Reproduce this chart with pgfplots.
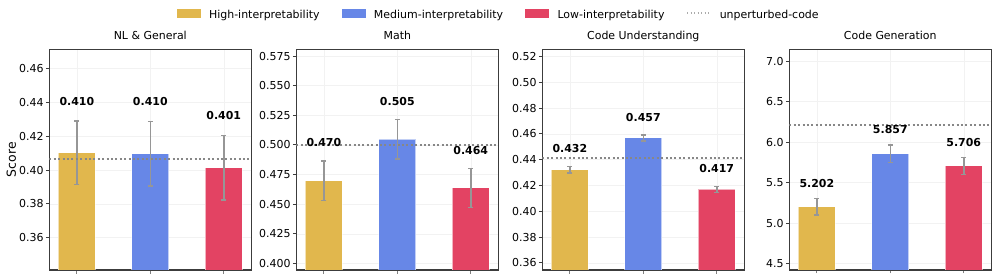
\documentclass[border=0pt]{standalone}
\usepackage{fontspec}
\setmainfont{DejaVu Sans}
\usepackage{pgfplots}
\pgfplotsset{compat=1.18}

\definecolor{cHigh}{RGB}{225,183,77}
\definecolor{cMed}{RGB}{103,135,231}
\definecolor{cLow}{RGB}{227,67,99}
\definecolor{cErr}{RGB}{150,150,150}
\definecolor{cRef}{RGB}{135,135,135}
\definecolor{cSpine}{RGB}{60,60,60}

\tikzset{vlab/.style={font=\fontsize{11}{13}\selectfont\bfseries, anchor=base, inner sep=0pt}}

\pgfplotsset{
  panel/.style={
    scale only axis, width=202bp, height=220.7bp,
    anchor=south west,
    xmin=-0.375, xmax=2.375,
    xtick={0,1,2}, xticklabels={,,},
    tick align=outside, major tick length=3.5bp,
    tick pos=left,
    axis line style={cSpine, line width=1.1bp},
    ytick style={cSpine, line width=0.9bp},
    xtick style={gray, line width=0.9bp},
    grid=major, major grid style={black!5, line width=0.5bp},
    tick label style={font=\fontsize{11}{13}\selectfont},
    /pgf/number format/assume math mode=true,
    yticklabel style={anchor=east, inner sep=0pt, xshift=-2bp},
    title style={at={(0.5,1)}, anchor=base, yshift=4bp, font=\fontsize{11}{13}\selectfont},
  },
  mybar/.style={ybar, bar width=0.5, bar shift=0pt, fill=#1, draw=white, draw opacity=0.6, line width=1bp, forget plot,
     error bars/.cd, y dir=both, y explicit,
     error bar style={cErr, line width=1.5bp, draw opacity=1},
     error mark options={cErr, rotate=90, line width=1.5bp, mark size=2.5bp, draw opacity=1}},
  refline/.style={cRef, line width=2bp, dash pattern=on 2bp off 2.4bp, forget plot},
}

\begin{document}
\begin{tikzpicture}
\path[use as bounding box] (0,0) rectangle (996bp,278bp);

% ---------------- NL & General ----------------
\begin{axis}[panel, at={(49.3bp,8bp)},
  ymin=0.34085, ymax=0.4715,
  ytick={0.36,0.38,0.40,0.42,0.44,0.46},
  yticklabel style={/pgf/number format/.cd, fixed, fixed zerofill, precision=2},
  title={NL \& General},
  ylabel={Score},
  ylabel style={at={(axis description cs:-0.166,0.5)}, anchor=base, font=\fontsize{12.5}{15}\selectfont},
  legend columns=4,
  legend style={at={(2.2196,1.159)}, anchor=center, draw=none, fill=none,
    inner sep=0pt, outer sep=0pt, font=\fontsize{11}{13}\selectfont,
    nodes={inner sep=0pt},
    /tikz/every odd column/.style={column sep=9bp},
    /tikz/every even column/.style={column sep=22bp}},
]
\addlegendimage{legend image code/.code={\fill[cHigh] (0bp,-2bp) rectangle (23bp,6.3bp);}}
\addlegendentry{High-interpretability}
\addlegendimage{legend image code/.code={\fill[cMed] (0bp,-2bp) rectangle (23bp,6.3bp);}}
\addlegendentry{Medium-interpretability}
\addlegendimage{legend image code/.code={\fill[cLow] (0bp,-2bp) rectangle (23bp,6.3bp);}}
\addlegendentry{Low-interpretability}
\addlegendimage{legend image code/.code={\draw[cRef!70, line width=1.3bp, dash pattern=on 1.3bp off 2.2bp] (0bp,2bp) -- (23bp,2bp);}}
\addlegendentry{unperturbed-code}

\addplot[mybar=cHigh] coordinates {(0,0.4102) +- (0,0.0188)};
\addplot[mybar=cMed]  coordinates {(1,0.4097) +- (0,0.0190)};
\addplot[mybar=cLow]  coordinates {(2,0.4014) +- (0,0.0190)};
\addplot[refline] coordinates {(-0.375,0.4063) (2.375,0.4063)};
\node[vlab] at (axis cs:0,0.4380) {0.410};
\node[vlab] at (axis cs:1,0.4380) {0.410};
\node[vlab] at (axis cs:2,0.4298) {0.401};
\end{axis}

% ---------------- Math ----------------
\begin{axis}[panel, at={(296.3bp,8bp)},
  ymin=0.3944, ymax=0.58075,
  ytick={0.4,0.425,0.45,0.475,0.5,0.525,0.55,0.575},
  yticklabel style={/pgf/number format/.cd, fixed, fixed zerofill, precision=3},
  title={Math},
]
\addplot[mybar=cHigh] coordinates {(0,0.4698) +- (0,0.0167)};
\addplot[mybar=cMed]  coordinates {(1,0.5049) +- (0,0.0167)};
\addplot[mybar=cLow]  coordinates {(2,0.4638) +- (0,0.0165)};
\addplot[refline] coordinates {(-0.375,0.5003) (2.375,0.5003)};
\node[vlab] at (axis cs:0,0.4986) {0.470};
\node[vlab] at (axis cs:1,0.5334) {0.505};
\node[vlab] at (axis cs:2,0.4916) {0.464};
\end{axis}

% ---------------- Code Understanding ----------------
\begin{axis}[panel, at={(542.3bp,8bp)},
  ymin=0.35445, ymax=0.52555,
  ytick={0.36,0.38,0.40,0.42,0.44,0.46,0.48,0.50,0.52},
  yticklabel style={/pgf/number format/.cd, fixed, fixed zerofill, precision=2},
  title={Code Understanding},
]
\addplot[mybar=cHigh] coordinates {(0,0.4323) +- (0,0.0025)};
\addplot[mybar=cMed]  coordinates {(1,0.4568) +- (0,0.0023)};
\addplot[mybar=cLow]  coordinates {(2,0.4169) +- (0,0.0023)};
\addplot[refline] coordinates {(-0.375,0.4412) (2.375,0.4412)};
\node[vlab] at (axis cs:0,0.4459) {0.432};
\node[vlab] at (axis cs:1,0.4698) {0.457};
\node[vlab] at (axis cs:2,0.4301) {0.417};
\end{axis}

% ---------------- Code Generation ----------------
\begin{axis}[panel, at={(789.3bp,8bp)},
  ymin=4.4217, ymax=7.146,
  ytick={4.5,5.0,5.5,6.0,6.5,7.0},
  yticklabel style={/pgf/number format/.cd, fixed, fixed zerofill, precision=1},
  title={Code Generation},
]
\addplot[mybar=cHigh] coordinates {(0,5.202) +- (0,0.102)};
\addplot[mybar=cMed]  coordinates {(1,5.857) +- (0,0.106)};
\addplot[mybar=cLow]  coordinates {(2,5.706) +- (0,0.104)};
\addplot[refline] coordinates {(-0.375,6.214) (2.375,6.214)};
\node[vlab] at (axis cs:0,5.442) {5.202};
\node[vlab] at (axis cs:1,6.110) {5.857};
\node[vlab] at (axis cs:2,5.946) {5.706};
\end{axis}
\end{tikzpicture}
\end{document}
